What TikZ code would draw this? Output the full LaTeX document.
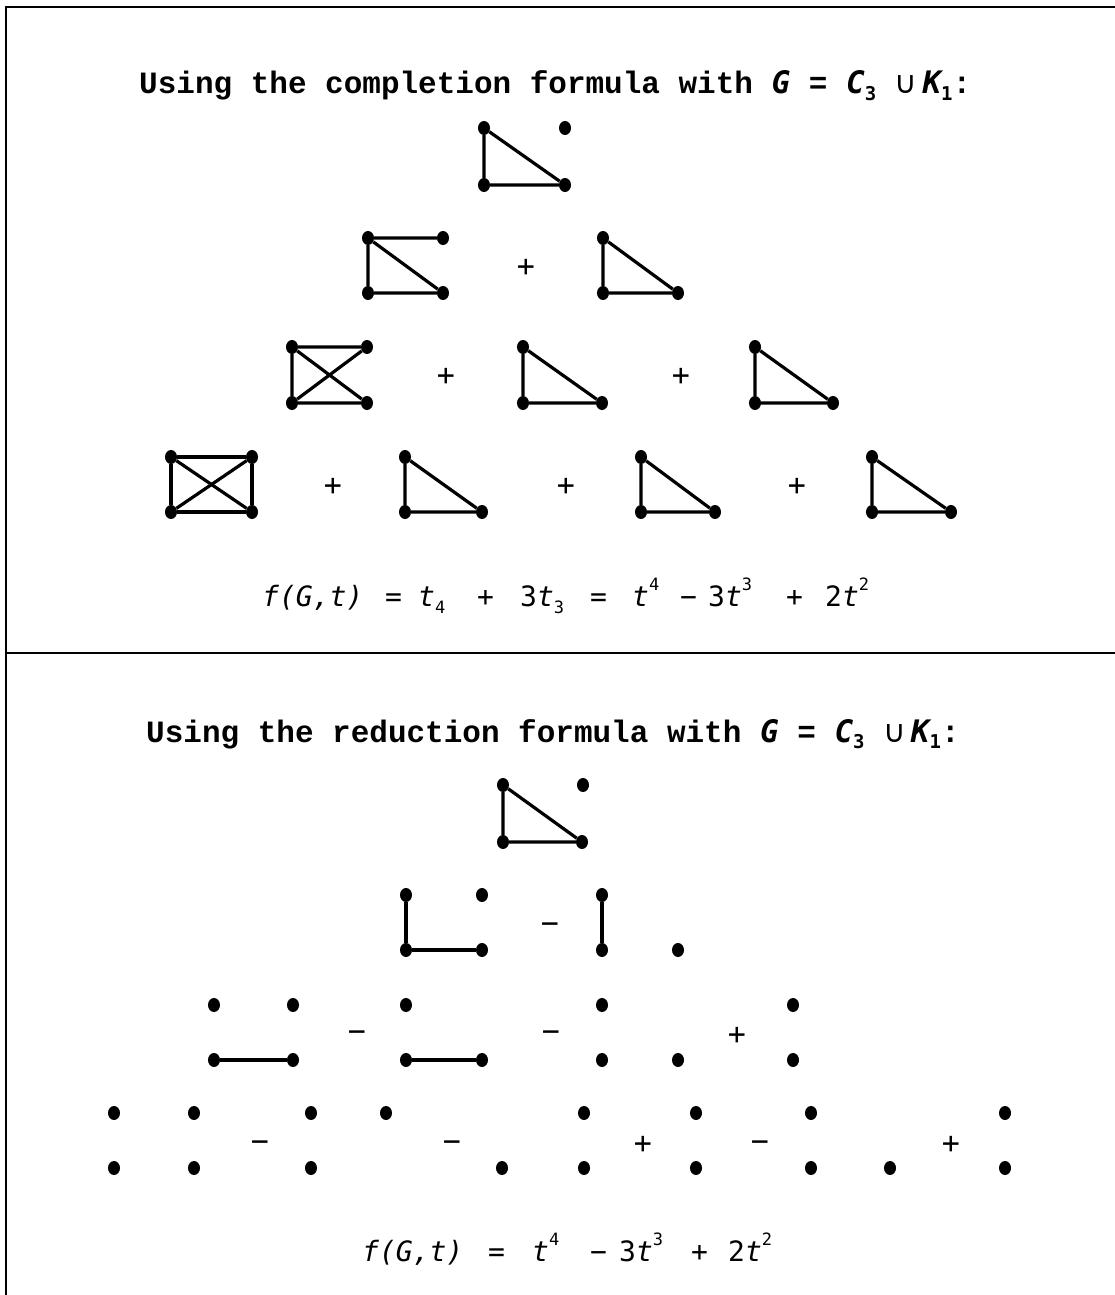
\documentclass[tikz,border=0pt]{standalone}
\usepackage{fontspec}
\usetikzlibrary{shapes.geometric}
\newfontfamily\ttlfont{Liberation Mono}
\newfontfamily\mmfont{DejaVu Sans Mono}
\newfontfamily\symfont{DejaVu Sans}
\newcommand{\tsub}[1]{\raisebox{-0.22em}{\fontsize{19}{19}\selectfont #1}}
\newcommand{\fsub}[1]{\raisebox{-0.25em}{\fontsize{17}{17}\selectfont #1}}
\newcommand{\fsup}[1]{\raisebox{0.55em}{\fontsize{17}{17}\selectfont #1}}
\begin{document}
\begin{tikzpicture}[x=1pt,y=-1pt,
  v/.style={ellipse,fill=black,draw=none,inner sep=0pt,minimum width=12pt,minimum height=14pt},
  e/.style={line width=3.2pt},
  frame/.style={line width=2.6pt},
  ttl/.style={anchor=base west,inner sep=0pt,font=\fontsize{31}{36}\selectfont\ttlfont\bfseries},
  fm/.style={anchor=base west,inner sep=0pt,font=\fontsize{28}{32}\selectfont\mmfont},
  op/.style={inner sep=0pt,font=\fontsize{30}{34}\selectfont\mmfont}]
\useasboundingbox (0,0) rectangle (1115,1295);
% frame
\coordinate (fTL) at (6,7);
\coordinate (fTR) at (1115,7);
\coordinate (fBL) at (6,1295);
\coordinate (dL) at (6,653);
\coordinate (dR) at (1115,653);
\draw[frame] (fTR) -- (fTL) -- (fBL);
\draw[frame] (dL) -- (dR);

% ===== top section =====
\node[ttl] (title1) at (139,94) {Using the completion formula with {\mmfont\bfseries\itshape G} = {\mmfont\bfseries\itshape C}\tsub{\mmfont\bfseries 3} {\symfont\mdseries ∪}\hspace{5pt}{\mmfont\bfseries\itshape K}\tsub{\mmfont\bfseries 1}:};

% row 1
\node[v] (a0) at (484,128) {}; \node[v] (b0) at (565,128) {};
\node[v] (c0) at (484,185) {}; \node[v] (d0) at (565,185) {};
\draw[e] (a0) -- (c0) -- (d0) -- (a0);

% row 2
\node[v] (a21) at (368,238) {}; \node[v] (b21) at (443,238) {};
\node[v] (c21) at (368,293) {}; \node[v] (d21) at (443,293) {};
\draw[e] (b21) -- (a21) -- (c21) -- (d21) -- (a21);
\node[op] (p21) at (526,268) {+};
\node[v] (a22) at (603,238) {};
\node[v] (c22) at (603,293) {}; \node[v] (d22) at (678,293) {};
\draw[e] (a22) -- (c22) -- (d22) -- (a22);

% row 3
\node[v] (a31) at (292,347) {}; \node[v] (b31) at (367,347) {};
\node[v] (c31) at (292,403) {}; \node[v] (d31) at (367,403) {};
\draw[e] (b31) -- (a31) -- (c31) -- (d31) -- (a31);
\draw[e] (b31) -- (c31);
\node[op] (p31) at (446,377) {+};
\node[v] (a32) at (523,347) {};
\node[v] (c32) at (523,403) {}; \node[v] (d32) at (602,403) {};
\draw[e] (a32) -- (c32) -- (d32) -- (a32);
\node[op] (p32) at (681,377) {+};
\node[v] (a33) at (755,347) {};
\node[v] (c33) at (755,403) {}; \node[v] (d33) at (833,403) {};
\draw[e] (a33) -- (c33) -- (d33) -- (a33);

% row 4
\node[v] (a41) at (171,457) {}; \node[v] (b41) at (252,457) {};
\node[v] (c41) at (171,512) {}; \node[v] (d41) at (252,512) {};
\draw[e] (a41) -- (b41) -- (d41) -- (c41) -- (a41);
\draw[e] (a41) -- (d41); \draw[e] (b41) -- (c41);
\node[op] (p41) at (333,487) {+};
\node[v] (a42) at (405,457) {};
\node[v] (c42) at (405,512) {}; \node[v] (d42) at (482,512) {};
\draw[e] (a42) -- (c42) -- (d42) -- (a42);
\node[op] (p42) at (566,487) {+};
\node[v] (a43) at (641,457) {};
\node[v] (c43) at (641,512) {}; \node[v] (d43) at (715,512) {};
\draw[e] (a43) -- (c43) -- (d43) -- (a43);
\node[op] (p43) at (797,487) {+};
\node[v] (a44) at (872,457) {};
\node[v] (c44) at (872,512) {}; \node[v] (d44) at (951,512) {};
\draw[e] (a44) -- (c44) -- (d44) -- (a44);

% formula 1
\node[fm] (f1a) at (262,606) {\itshape f(G,t)};
\node[fm] (f1b) at (385,606) {=};
\node[fm] (f1c) at (418,606) {{\itshape t}\fsub{4}};
\node[fm] (f1d) at (477,606) {+};
\node[fm] (f1e) at (520,606) {3{\itshape t}\fsub{3}};
\node[fm] (f1f) at (590,606) {=};
\node[fm] (f1g) at (632,606) {{\itshape t}\fsup{4}};
\node[fm] (f1h) at (680,606) {−};
\node[fm] (f1i) at (708,606) {3{\itshape t}\fsup{3}};
\node[fm] (f1j) at (786,606) {+};
\node[fm] (f1k) at (825,606) {2{\itshape t}\fsup{2}};

% ===== bottom section =====
\node[ttl] (title2) at (146,742) {Using the reduction formula with {\mmfont\bfseries\itshape G} = {\mmfont\bfseries\itshape C}\tsub{\mmfont\bfseries 3} {\symfont\mdseries ∪}\hspace{5pt}{\mmfont\bfseries\itshape K}\tsub{\mmfont\bfseries 1}:};

% row 1
\node[v] (A0) at (503,785) {}; \node[v] (B0) at (583,785) {};
\node[v] (C0) at (503,842) {}; \node[v] (D0) at (582,842) {};
\draw[e] (A0) -- (C0) -- (D0) -- (A0);

% row 2
\node[v] (A21) at (406,895) {}; \node[v] (B21) at (482,895) {};
\node[v] (C21) at (406,950) {}; \node[v] (D21) at (482,950) {};
\draw[e] (A21) -- (C21) -- (D21);
\node[op] (M21) at (550,925) {\vphantom{+}−};
\node[v] (A22) at (602,895) {};
\node[v] (C22) at (602,950) {}; \node[v] (D22) at (678,950) {};
\draw[e] (A22) -- (C22);

% row 3
\node[v] (A31) at (214,1005) {}; \node[v] (B31) at (293,1005) {};
\node[v] (C31) at (214,1060) {}; \node[v] (D31) at (293,1060) {};
\draw[e] (C31) -- (D31);
\node[op] (M31) at (357,1033) {\vphantom{+}−};
\node[v] (A32) at (406,1005) {};
\node[v] (C32) at (406,1060) {}; \node[v] (D32) at (482,1060) {};
\draw[e] (C32) -- (D32);
\node[op] (M32) at (551,1033) {\vphantom{+}−};
\node[v] (A33) at (602,1005) {};
\node[v] (C33) at (602,1060) {}; \node[v] (D33) at (678,1060) {};
\node[op] (P33) at (737,1036) {+};
\node[v] (A34) at (793,1005) {};
\node[v] (C34) at (793,1060) {};

% row 4
\node[v] (A41) at (114,1113) {}; \node[v] (B41) at (194,1113) {};
\node[v] (C41) at (114,1168) {}; \node[v] (D41) at (194,1168) {};
\node[op] (M41) at (260,1143) {\vphantom{+}−};
\node[v] (A42) at (311,1113) {}; \node[v] (B42) at (386,1113) {};
\node[v] (C42) at (311,1168) {};
\node[op] (M42) at (452,1143) {\vphantom{+}−};
\node[v] (C43) at (502,1168) {};
\node[v] (A43) at (584,1113) {}; \node[v] (D43) at (584,1168) {};
\node[op] (P43) at (643,1145) {+};
\node[v] (A44) at (696,1113) {}; \node[v] (C44) at (696,1168) {};
\node[op] (M44) at (760,1143) {\vphantom{+}−};
\node[v] (A45) at (811,1113) {};
\node[v] (C45) at (811,1168) {}; \node[v] (D45) at (890,1168) {};
\node[op] (P45) at (951,1145) {+};
\node[v] (A46) at (1005,1113) {}; \node[v] (C46) at (1005,1168) {};

% formula 2
\node[fm] (f2a) at (362,1261) {\itshape f(G,t)};
\node[fm] (f2b) at (488,1261) {=};
\node[fm] (f2c) at (532,1261) {{\itshape t}\fsup{4}};
\node[fm] (f2d) at (590,1261) {−};
\node[fm] (f2e) at (619,1261) {3{\itshape t}\fsup{3}};
\node[fm] (f2f) at (691,1261) {+};
\node[fm] (f2g) at (728,1261) {2{\itshape t}\fsup{2}};
\end{tikzpicture}
\end{document}
